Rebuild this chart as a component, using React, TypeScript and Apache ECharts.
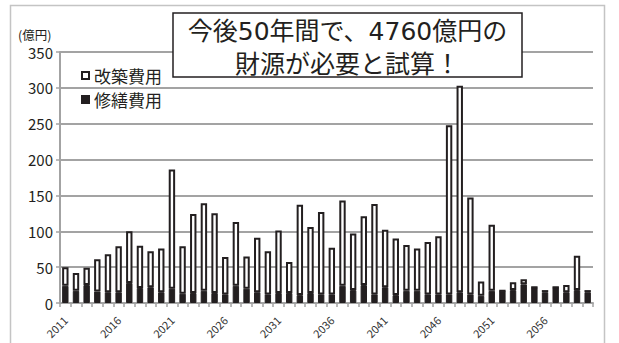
import React, { useEffect, useRef } from "react";
import * as echarts from "echarts";

// 年度（2011〜2060）
const years: string[] = [
  "2011", "2012", "2013", "2014", "2015", "2016", "2017", "2018", "2019", "2020",
  "2021", "2022", "2023", "2024", "2025", "2026", "2027", "2028", "2029", "2030",
  "2031", "2032", "2033", "2034", "2035", "2036", "2037", "2038", "2039", "2040",
  "2041", "2042", "2043", "2044", "2045", "2046", "2047", "2048", "2049", "2050",
  "2051", "2052", "2053", "2054", "2055", "2056", "2057", "2058", "2059", "2060",
];

// 修繕費用（億円）
const repairCost: number[] = [
  24, 17, 25, 16, 15, 15, 28, 21, 22, 15,
  20, 13, 14, 17, 14, 12, 24, 20, 15, 12,
  14, 14, 11, 14, 12, 12, 24, 18, 25, 12,
  22, 11, 17, 17, 12, 12, 12, 15, 12, 10,
  17, 17, 18, 26, 22, 15, 22, 15, 18, 15,
];

// 改築費用（億円）
const rebuildCost: number[] = [
  26, 25, 24, 45, 53, 64, 72, 59, 50, 61,
  166, 66, 110, 122, 111, 52, 89, 45, 76, 60,
  87, 43, 126, 92, 115, 65, 119, 79, 96, 126,
  80, 79, 64, 59, 73, 81, 236, 288, 135, 20,
  92, 0, 11, 7, 0, 3, 0, 10, 48, 3,
];

const yTicks = { min: 0, max: 350, interval: 50 };

// unquoted family names keep the SVG style attribute clean
const FONT = "Noto Sans CJK JP, Noto Sans, sans-serif";
const TITLE_FONT = "DejaVu Sans, Noto Sans CJK JP, sans-serif";
const INK = "#231f20";
const GRID_GRAY = "#a3a3a3";

export default function App() {
  const ref = useRef<HTMLDivElement>(null);

  useEffect(() => {
    if (!ref.current) return;
    const chart = echarts.init(ref.current, undefined, { renderer: "svg" });
    chart.setOption({
      animation: false,
      backgroundColor: "#ffffff",
      textStyle: { fontFamily: FONT },
      grid: { left: 60, right: 26, top: 52, bottom: 40, containLabel: false },
      legend: {
        orient: "vertical",
        left: 81,
        top: 67,
        padding: 0,
        itemGap: 7,
        itemWidth: 7,
        itemHeight: 7,
        icon: "rect",
        data: ["改築費用", "修繕費用"],
        textStyle: { fontSize: 17, color: INK, fontFamily: FONT },
      },
      xAxis: {
        type: "category",
        data: years,
        axisLine: { lineStyle: { color: GRID_GRAY, width: 2 } },
        axisTick: { show: true, interval: 0, length: 4, lineStyle: { color: GRID_GRAY, width: 1.5 } },
        axisLabel: {
          interval: 4,
          rotate: 45,
          fontSize: 11,
          color: "#333",
          margin: 15,
          fontFamily: FONT,
        },
      },
      yAxis: {
        type: "value",
        min: yTicks.min,
        max: yTicks.max,
        interval: yTicks.interval,
        axisLine: { show: true, lineStyle: { color: GRID_GRAY, width: 2 } },
        axisTick: { show: true, length: 4, lineStyle: { color: GRID_GRAY, width: 1.5 } },
        splitLine: { lineStyle: { color: GRID_GRAY, width: 2 } },
        axisLabel: { fontSize: 15, color: INK, margin: 7, fontFamily: FONT },
      },
      series: [
        {
          name: "修繕費用",
          type: "bar",
          stack: "total",
          barWidth: "60%",
          data: repairCost,
          itemStyle: { color: INK, borderColor: INK, borderWidth: 1 },
        },
        {
          name: "改築費用",
          type: "bar",
          stack: "total",
          barWidth: "60%",
          data: rebuildCost,
          itemStyle: { color: "#ffffff", borderColor: INK, borderWidth: 2 },
        },
      ],
      graphic: [
        {
          type: "rect",
          z: 1,
          silent: true,
          shape: { x: 10.5, y: 5.5, width: 594, height: 400 },
          style: { fill: "none", stroke: "#c4c4c4", lineWidth: 1.5 },
        },
        {
          type: "text",
          z: 100,
          x: 18,
          y: 34,
          style: {
            text: "(億円)",
            fontSize: 12.5,
            fontFamily: FONT,
            fill: INK,
            textAlign: "left",
            textVerticalAlign: "middle",
          },
        },
        {
          type: "rect",
          z: 100,
          shape: { x: 173, y: 13, width: 349, height: 64 },
          style: { fill: "#ffffff", stroke: INK, lineWidth: 1.5 },
        },
        {
          type: "text",
          z: 101,
          x: 347.5,
          y: 31,
          style: {
            text: "今後50年間で、4760億円の",
            fontSize: 25,
            fontFamily: TITLE_FONT,
            fill: INK,
            textAlign: "center",
            textVerticalAlign: "middle",
          },
        },
        {
          type: "text",
          z: 101,
          x: 347.5,
          y: 62,
          style: {
            text: "財源が必要と試算！",
            fontSize: 25,
            fontFamily: FONT,
            fill: INK,
            textAlign: "center",
            textVerticalAlign: "middle",
          },
        },
      ],
    });
    return () => chart.dispose();
  }, []);

  return (
    <div
      ref={ref}
      style={{ position: "fixed", left: 0, top: 0, width: 619, height: 343, background: "#fff" }}
    />
  );
}
